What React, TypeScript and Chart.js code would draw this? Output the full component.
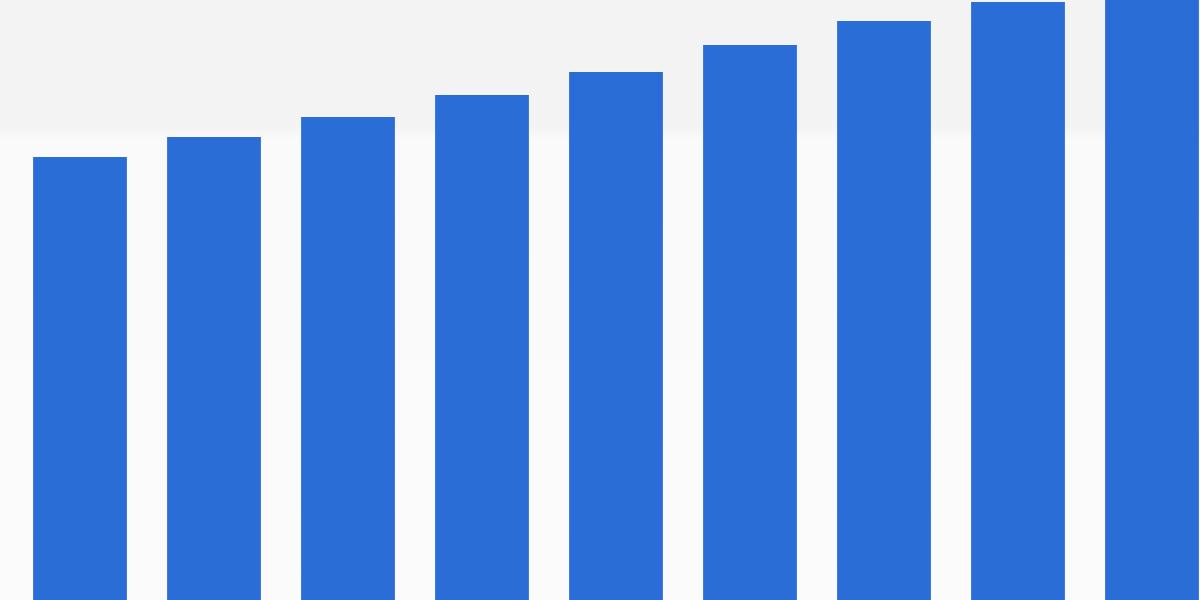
import React, { useEffect, useRef } from "react";
import { Chart, registerables } from "chart.js";

Chart.register(...registerables);

const categories = ["1", "2", "3", "4", "5", "6", "7", "8", "9"];
const values = [443, 463, 483, 505, 528, 555, 579, 598, 620];
const yMax = 600;

const BAR_BLUE = "#2a6dd6";

const App = () => {
  const ref = useRef<HTMLCanvasElement>(null!);

  useEffect(() => {
    const chart = new Chart(ref.current, {
      type: "bar",
      data: {
        labels: categories,
        datasets: [
          {
            data: values,
            backgroundColor: BAR_BLUE,
            borderWidth: 0,
            barPercentage: 0.7,
            categoryPercentage: 1,
          },
        ],
      },
      options: {
        animation: false,
        responsive: true,
        maintainAspectRatio: false,
        layout: { padding: 0 },
        scales: {
          x: { display: false, offset: true },
          y: { display: false, min: 0, max: yMax },
        },
        plugins: {
          legend: { display: false },
          tooltip: { enabled: false },
        },
      },
    });
    return () => {
      chart.destroy();
    };
  }, []);

  // soft grey band at the top, near-white below
  return (
    <div
      style={{
        position: "fixed",
        left: 0,
        top: 0,
        width: 1200,
        height: 600,
        overflow: "hidden",
        background: "linear-gradient(#f3f3f3 0, #f3f3f3 125px, #fafafa 140px, #fbfbfb 100%)",
      }}
    >
      <div style={{ position: "absolute", left: 13, top: 0, width: 1206, height: 600 }}>
        <canvas ref={ref} />
      </div>
    </div>
  );
};

export default App;
